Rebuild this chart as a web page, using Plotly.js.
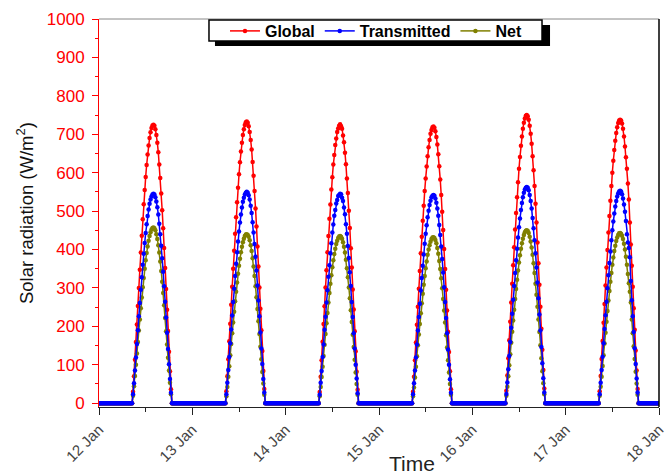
<!DOCTYPE html>
<html>
<head>
<meta charset="utf-8">
<script src="https://cdn.plot.ly/plotly-3.0.1.min.js"></script>
<style>html,body{margin:0;padding:0;background:#fff;}#chart{width:668px;height:475px;}</style>
</head>
<body>
<div id="chart"></div>
<script>
// Days shown (tick labels come from the date axis: "12 Jan" ... "18 Jan")
const days = ['2023-01-12','2023-01-13','2023-01-14','2023-01-15','2023-01-16','2023-01-17'];
const xStart = '2023-01-12';
const xEnd = '2023-01-18';
const stepMinutes = 15;
const firstDaylightSlot = 35; // 08:45, first non-zero reading each day

// Daytime readings (W/m2), 15-min steps from 08:45 to 18:30; zero otherwise
const globalDay12 = [30,70,113,159,205,253,300,347,392,436,479,518,555,589,620,647,671,690,705,716,723,725,722,713,698,678,653,621,586,546,502,455,404,352,297,243,188,134,83,36];
const globalDay13 = [31,70,114,161,207,256,303,350,397,441,484,523,561,596,627,655,678,698,713,724,731,733,730,721,706,685,660,628,592,552,507,460,408,356,301,246,190,136,84,37];
const globalDay14 = [29,69,112,160,206,252,301,346,393,435,480,517,556,588,621,646,672,689,706,715,722,726,721,714,697,679,652,622,585,547,501,456,403,353,296,244,187,135,82,35];
const globalDay15 = [30,69,112,158,204,251,298,344,390,433,475,514,552,585,616,643,666,685,701,711,718,720,717,708,693,673,648,617,582,542,498,451,401,349,295,241,186,133,83,36];
const globalDay16 = [32,72,117,164,212,262,311,359,406,452,495,536,575,610,641,670,694,714,730,741,748,750,747,738,722,701,675,643,606,565,519,470,418,364,308,251,194,139,86,38];
const globalDay17 = [31,71,115,162,209,258,306,353,399,444,487,527,565,600,631,659,683,703,718,729,736,738,736,728,714,694,668,640,610,572,530,470,413,358,303,247,191,137,85,37];

const transDay12 = [23,52,85,119,154,190,226,261,295,328,360,389,417,443,466,487,504,519,530,538,543,545,543,536,525,510,491,467,440,410,377,342,304,264,223,183,141,101,63,27];
const transDay13 = [23,53,86,120,156,192,228,263,298,331,363,393,421,447,470,491,509,524,535,543,548,550,548,541,530,514,495,471,444,414,381,345,306,267,226,184,142,102,63,28];
const transDay14 = [22,53,84,120,153,191,225,262,294,329,359,390,416,444,465,488,503,520,529,539,542,545,544,535,526,509,492,466,441,409,378,341,305,263,224,182,142,100,64,26];
const transDay15 = [23,52,85,119,153,189,224,259,293,326,358,387,415,441,463,484,501,516,527,536,540,542,540,533,522,507,488,464,438,408,375,340,302,263,222,182,140,100,62,27];
const transDay16 = [24,54,88,123,159,196,233,269,305,339,372,402,431,458,481,503,521,536,548,556,561,563,561,554,542,526,507,482,455,424,390,353,314,273,231,189,146,104,65,28];
const transDay17 = [23,53,86,121,156,193,229,264,299,333,365,395,424,450,473,494,512,526,538,546,551,553,551,544,533,517,498,474,440,418,404,380,318,268,226,185,143,102,64,28];

const netDay12 = [19,44,71,100,129,159,189,218,247,275,302,326,350,372,391,408,423,435,445,452,456,457,455,450,440,427,411,392,369,344,316,287,255,222,187,153,118,85,53,23];
const netDay13 = [18,42,69,96,125,154,182,210,238,265,290,314,337,358,376,393,407,419,428,435,439,440,438,433,424,411,396,377,356,331,304,276,245,213,180,147,114,81,51,22];
const netDay14 = [18,42,68,95,123,152,180,208,235,262,287,311,333,354,372,388,402,414,423,430,434,435,433,428,419,407,392,373,351,328,301,273,242,211,178,146,113,80,50,22];
const netDay15 = [18,41,67,95,122,151,179,206,234,260,285,308,331,351,369,386,400,411,420,427,431,432,430,425,416,404,389,370,349,325,299,271,241,210,177,145,112,80,50,22];
const netDay16 = [19,43,70,99,127,157,186,215,243,271,297,321,345,366,385,402,416,428,438,445,449,450,448,443,433,421,405,386,364,339,311,282,251,218,185,151,117,83,52,23];
const netDay17 = [19,43,69,97,125,155,183,212,240,267,292,316,339,360,379,396,410,422,431,438,442,443,441,436,427,415,400,381,360,336,312,290,262,218,182,148,115,82,51,22];

const globalDays = [globalDay12,globalDay13,globalDay14,globalDay15,globalDay16,globalDay17];
const transDays = [transDay12,transDay13,transDay14,transDay15,transDay16,transDay17];
const netDays = [netDay12,netDay13,netDay14,netDay15,netDay16,netDay17];

function fmt(ms){ return new Date(ms).toISOString().slice(0,16).replace('T',' '); }
const slotsPerDay = 24*60/stepMinutes;
const t0 = Date.parse(xStart + 'T00:00:00Z');
const times = [];
for (let i = 0; i <= days.length*slotsPerDay; i++) times.push(fmt(t0 + i*stepMinutes*60000));
function buildSeries(dayArrays){
  const out = [];
  for (let i = 0; i < times.length; i++){
    const d = Math.floor(i/slotsPerDay), s = i % slotsPerDay, k = s - firstDaylightSlot;
    const arr = dayArrays[d];
    out.push(arr && k >= 0 && k < arr.length ? arr[k] : 0);
  }
  return out;
}

function tr(name, y, color, rank){
  return {x: times, y: y, name: name, type: 'scatter', mode: 'lines+markers',
    line: {color: color, width: 1.5}, marker: {color: color, size: 4.5, symbol: 'circle'},
    legendrank: rank, hoverinfo: 'x+y'};
}
const data = [
  tr('Global', buildSeries(globalDays), '#ff0000', 1),
  tr('Net', buildSeries(netDays), '#808000', 3),
  tr('Transmitted', buildSeries(transDays), '#0000ff', 2)
];

const FONT = 'Arial, "Liberation Sans", sans-serif';
const layout = {
  width: 668, height: 475,
  margin: {l: 99, r: 9, t: 19, b: 68},
  paper_bgcolor: '#ffffff', plot_bgcolor: '#ffffff',
  font: {family: FONT},
  showlegend: true,
  legend: {orientation: 'h', x: 0.4946, xanchor: 'center', y: 1.0129, yanchor: 'top',
    bgcolor: 'rgba(0,0,0,0)', borderwidth: 0,
    font: {family: FONT, size: 16, color: '#000000', weight: 'bold'},
    itemwidth: 30, tracegroupgap: 0},
  xaxis: {type: 'date', range: [xStart, xEnd], tick0: xStart, dtick: 86400000,
    tickformat: '%d %b', tickangle: -45, showgrid: false, zeroline: false,
    showline: true, linecolor: '#222222', linewidth: 1,
    ticks: 'outside', ticklen: 7, tickcolor: '#222222', tickwidth: 1,
    minor: {dtick: 43200000, ticks: 'outside', ticklen: 4, tickcolor: '#222222', showgrid: false},
    tickfont: {family: FONT, size: 15, color: '#444444'}},
  yaxis: {range: [-10, 1000], tick0: 0, dtick: 100, showgrid: false, zeroline: false,
    showline: true, linecolor: '#ff0000', linewidth: 1,
    ticks: 'outside', ticklen: 6, tickcolor: '#ff0000', tickwidth: 1, ticklabelstandoff: 4,
    minor: {dtick: 50, ticks: 'outside', ticklen: 3, tickcolor: '#ff0000', showgrid: false},
    tickfont: {family: FONT, size: 17, color: '#ff0000'}},
  shapes: [
    {type: 'line', xref: 'paper', yref: 'paper', x0: 0, x1: 1, y0: 1, y1: 1, line: {color: '#888888', width: 1}},
    {type: 'line', xref: 'paper', yref: 'paper', x0: 1, x1: 1, y0: 0, y1: 1, line: {color: '#000000', width: 1.5}},
    {type: 'rect', xref: 'paper', yref: 'paper', x0: 0.2071, x1: 0.8054, y0: 0.9304, y1: 0.9845,
      fillcolor: '#000000', line: {width: 0}, layer: 'above'},
    {type: 'rect', xref: 'paper', yref: 'paper', x0: 0.1964, x1: 0.7911, y0: 0.9433, y1: 0.9974,
      fillcolor: '#ffffff', line: {color: '#000000', width: 1.5}, layer: 'above'}
  ],
  annotations: [
    {text: 'Solar radiation (W/m<sup>2</sup>)', xref: 'paper', yref: 'paper', x: -0.132, y: 0.5,
      textangle: -90, showarrow: false, xanchor: 'center', yanchor: 'middle',
      font: {family: FONT, size: 18.5, color: '#111111'}},
    {text: 'Time', xref: 'paper', yref: 'paper', x: 0.559, y: -0.145,
      showarrow: false, xanchor: 'center', yanchor: 'middle',
      font: {family: FONT, size: 21, color: '#222222'}}
  ]
};
Plotly.newPlot('chart', data, layout, {displayModeBar: false, staticPlot: true});
</script>
</body>
</html>
